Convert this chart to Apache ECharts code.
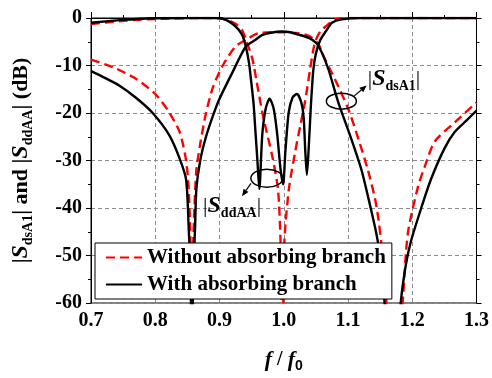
<!DOCTYPE html>
<html>
<head>
<meta charset="utf-8">
<script src="https://cdn.jsdelivr.net/npm/echarts@6/dist/echarts.min.js"></script>
<style>
html, body { margin: 0; padding: 0; background: #fff; }
#chart { width: 492px; height: 378px; }
</style>
</head>
<body>
<div id="chart"></div>
<script>
// |S_dsA1| with absorbing branch (black solid)
const fDsWith = [0.70, 0.72, 0.745, 0.77, 0.796, 0.822, 0.838, 0.848, 0.852, 0.855, 0.857, 0.859, 0.862, 0.864, 0.870, 0.879, 0.890, 0.900, 0.920, 0.941, 0.956, 0.966, 0.980, 0.997, 1.010, 1.023, 1.039, 1.051, 1.060, 1.070, 1.085, 1.105, 1.121, 1.131, 1.142, 1.147, 1.152, 1.157, 1.170, 1.182, 1.190, 1.198, 1.214, 1.229, 1.250, 1.266, 1.285, 1.300];
const dbDsWith = [-11.2, -12.5, -14.3, -16.8, -20, -24.7, -29.6, -34, -44, -55, -72, -55, -44, -36, -30, -25, -20.5, -17, -11.5, -6, -4.6, -3.6, -3.1, -2.85, -3.0, -3.5, -4.2, -5.3, -7.5, -11, -17.8, -25.4, -32, -37.5, -44, -47.5, -52, -60, -80, -60, -52, -47, -40, -34, -27.5, -24, -21.5, -19.5];

// |S_dsA1| without absorbing branch (red dashed)
const fDsWo = [0.70, 0.735, 0.77, 0.80, 0.82, 0.838, 0.848, 0.852, 0.855, 0.857, 0.859, 0.861, 0.864, 0.870, 0.879, 0.890, 0.905, 0.925, 0.941, 0.961, 0.990, 1.023, 1.040, 1.054, 1.060, 1.080, 1.100, 1.116, 1.131, 1.142, 1.147, 1.152, 1.160, 1.172, 1.185, 1.193, 1.209, 1.219, 1.235, 1.266, 1.300];
const dbDsWo = [-8.75, -10.4, -12.8, -16, -19.5, -24, -30, -36, -48, -72, -48, -40, -32, -26.5, -20, -14.5, -10, -6, -4.6, -3.2, -3, -3.2, -3.8, -5.5, -7.5, -13, -19, -25.4, -32, -38, -42, -47.6, -60, -80, -60, -45.5, -35.5, -31.5, -26, -22, -17.8];

// |S_ddAA| with absorbing branch (black solid)
const fDdWith = [0.70, 0.75, 0.786, 0.85, 0.90, 0.91, 0.92, 0.93, 0.936, 0.941, 0.946, 0.949, 0.953, 0.956, 0.959, 0.962, 0.9665, 0.9717, 0.978, 0.9845, 0.990, 0.9949, 0.999, 1.0026, 1.0077, 1.0139, 1.0206, 1.0273, 1.031, 1.0335, 1.036, 1.039, 1.042, 1.046, 1.050, 1.057, 1.067, 1.075, 1.090, 1.120, 1.300];
const dbDdWith = [-1.0, -0.4, -0.1, 0, 0, -0.4, -1.2, -2.5, -3.8, -6, -9.5, -13, -18, -24, -30, -36, -24.7, -19.2, -17, -19.2, -24.7, -31.7, -35, -28, -19.9, -16.7, -16, -17.8, -21, -28, -33, -27, -19, -11, -7.5, -4.6, -2.5, -1, -0.3, 0, 0];

// |S_ddAA| without absorbing branch (red dashed)
const fDdWo = [0.70, 0.75, 0.80, 0.88, 0.91, 0.925, 0.935, 0.941, 0.951, 0.958, 0.968, 0.982, 0.991, 0.995, 0.998, 1.001, 1.008, 1.018, 1.026, 1.033, 1.041, 1.046, 1.050, 1.057, 1.065, 1.080, 1.100, 1.300];
const dbDdWo = [-1.25, -0.6, -0.2, 0, -0.3, -1.2, -2.5, -4.5, -8.5, -13.5, -20.8, -29, -36, -47, -72, -47, -36, -28, -22.5, -17.7, -10.8, -6.7, -4.6, -2.8, -1.8, -0.3, 0, 0];

const xTicks = [0.7, 0.8, 0.9, 1.0, 1.1, 1.2, 1.3];
const nameWo = 'Without absorbing branch';
const nameWith = 'With absorbing branch';

const serif = "'Liberation Serif', 'Times New Roman', serif";

function pairs(xs, ys) {
  return xs.map((x, i) => [x, ys[i]]);
}

const chart = echarts.init(document.getElementById('chart'));

const lineRed = { color: '#ff0000', width: 2.4, type: [9, 5] };
const lineBlack = { color: '#000', width: 2.4 };

const option = {
  animation: false,
  backgroundColor: '#fff',
  grid: {
    left: 91, right: 13, top: 18, bottom: 72,
    show: true, borderColor: '#000', borderWidth: 1
  },
  xAxis: {
    type: 'value',
    min: 0.7, max: 1.3, interval: 0.1,
    name: '{i|f}{t| / }{i|f}{sub|0}',
    nameLocation: 'middle',
    nameGap: 44,
    nameTextStyle: {
      rich: {
        i: { fontFamily: serif, fontStyle: 'italic', fontWeight: 'bold', fontSize: 22, color: '#000' },
        t: { fontFamily: serif, fontWeight: 'bold', fontSize: 20, color: '#000' },
        sub: { fontFamily: "'Liberation Sans', Arial, sans-serif", fontWeight: 'bold', fontSize: 14, color: '#000', padding: [12, 0, 0, 0] }
      }
    },
    axisLine: { lineStyle: { color: '#000', width: 1 } },
    axisTick: { inside: true, length: 6, lineStyle: { color: '#000' } },
    minorTick: { show: true, splitNumber: 2, length: 3, lineStyle: { color: '#000' } },
    axisLabel: {
      color: '#000', fontFamily: serif, fontWeight: 'bold', fontSize: 20, margin: 8,
      formatter: v => xTicks.find(t => Math.abs(t - v) < 1e-6).toFixed(1)
    },
    splitLine: { show: true, lineStyle: { color: '#8c8c8c', type: [4, 3], width: 1 } }
  },
  yAxis: [
    {
      type: 'value',
      min: -60, max: 0, interval: 10,
      axisLine: { show: true, lineStyle: { color: '#000', width: 1 } },
      axisTick: { length: 5, lineStyle: { color: '#000' } },
      minorTick: { show: true, splitNumber: 2, length: 3, lineStyle: { color: '#000' } },
      axisLabel: { color: '#000', fontFamily: serif, fontWeight: 'bold', fontSize: 20, margin: 9 },
      splitLine: { show: true, lineStyle: { color: '#8c8c8c', type: [4, 3], width: 1 } }
    },
    {
      type: 'value',
      position: 'right',
      min: -60, max: 0, interval: 10,
      axisLine: { show: true, lineStyle: { color: '#000', width: 1 } },
      axisTick: { length: 5, lineStyle: { color: '#000' } },
      minorTick: { show: true, splitNumber: 2, length: 3, lineStyle: { color: '#000' } },
      axisLabel: { show: false },
      splitLine: { show: false }
    }
  ],
  legend: {
    left: 95, top: 243,
    orient: 'vertical',
    backgroundColor: '#fff',
    borderColor: '#000', borderWidth: 1,
    padding: [4, 6, 4, 10],
    itemGap: 6,
    itemWidth: 36, itemHeight: 14,
    itemStyle: { color: 'transparent', borderColor: 'transparent', borderWidth: 0, opacity: 0 },
    textStyle: { fontFamily: serif, fontWeight: 'bold', fontSize: 21, color: '#000' },
    data: [nameWo, nameWith]
  },
  series: [
    { name: nameWo, type: 'line', data: pairs(fDsWo, dbDsWo), showSymbol: false, symbol: 'none', smooth: 0.25, lineStyle: lineRed, color: '#ff0000' },
    { name: nameWo, type: 'line', data: pairs(fDdWo, dbDdWo), showSymbol: false, symbol: 'none', smooth: 0.25, lineStyle: lineRed, color: '#ff0000' },
    { name: nameWith, type: 'line', data: pairs(fDsWith, dbDsWith), showSymbol: false, symbol: 'none', smooth: 0.25, lineStyle: lineBlack, color: '#000' },
    { name: nameWith, type: 'line', data: pairs(fDdWith, dbDdWith), showSymbol: false, symbol: 'none', smooth: 0.25, lineStyle: lineBlack, color: '#000' }
  ]
};

chart.setOption(option);

// annotations placed in data coordinates
function px(p) { return chart.convertToPixel({ gridIndex: 0 }, p); }

function arrow(from, to) {
  const a = px(from), b = px(to);
  const dx = b[0] - a[0], dy = b[1] - a[1];
  const len = Math.sqrt(dx * dx + dy * dy);
  const ux = dx / len, uy = dy / len;
  const hl = 7, hw = 3;
  const base = [b[0] - ux * hl, b[1] - uy * hl];
  return [
    { type: 'line', shape: { x1: a[0], y1: a[1], x2: base[0], y2: base[1] }, style: { stroke: '#000', lineWidth: 1.2 }, z: 100 },
    { type: 'polygon', shape: { points: [b, [base[0] - uy * hw, base[1] + ux * hw], [base[0] + uy * hw, base[1] - ux * hw]] }, style: { fill: '#000' }, z: 100 }
  ];
}

function ellipse(c, rx, ry) {
  const p = px(c);
  return { type: 'ellipse', shape: { cx: p[0], cy: p[1], rx: rx, ry: ry }, style: { fill: null, stroke: '#000', lineWidth: 1.5 }, z: 100 };
}

const labelRich = {
  t: { fontFamily: serif, fontWeight: 'normal', fontSize: 22, fill: '#000' },
  s: { fontFamily: serif, fontStyle: 'italic', fontWeight: 'bold', fontSize: 24, fill: '#000' },
  sub: { fontFamily: serif, fontWeight: 'bold', fontSize: 14, fill: '#000', padding: [14, 0, 0, 0] }
};

function label(c, sub) {
  const p = px(c);
  return {
    type: 'text', x: p[0], y: p[1], z: 100,
    style: { text: '{t||}{s|S}{sub|' + sub + '}{t||}', rich: labelRich, align: 'center', verticalAlign: 'middle' }
  };
}

// y axis title, centred on the axis
const yMid = px([0.7, -30]);
const yTitle = {
  type: 'text', x: 21, y: yMid[1], rotation: Math.PI / 2, z: 100,
  style: {
    text: '{t||}{s|S}{sub|dsA1}{t|| and |}{s|S}{sub|ddAA}{t|| (dB)}',
    align: 'center', verticalAlign: 'middle',
    rich: {
      t: { fontFamily: serif, fontWeight: 'bold', fontSize: 22, fill: '#000' },
      s: { fontFamily: serif, fontStyle: 'italic', fontWeight: 'bold', fontSize: 24, fill: '#000' },
      sub: { fontFamily: serif, fontWeight: 'bold', fontSize: 14, fill: '#000', padding: [14, 0, 0, 0] }
    }
  }
};

chart.setOption({
  graphic: [
    yTitle,
    ellipse([0.9737, -33.75], 16, 9),
    ...arrow([0.949, -34.8], [0.935, -37.5]),
    label([0.9196, -39.6], 'ddAA'),
    ellipse([1.0897, -17.5], 15, 8),
    ...arrow([1.1098, -16.4], [1.1290, -14.2]),
    label([1.1716, -12.9], 'dsA1')
  ]
});
</script>
</body>
</html>
